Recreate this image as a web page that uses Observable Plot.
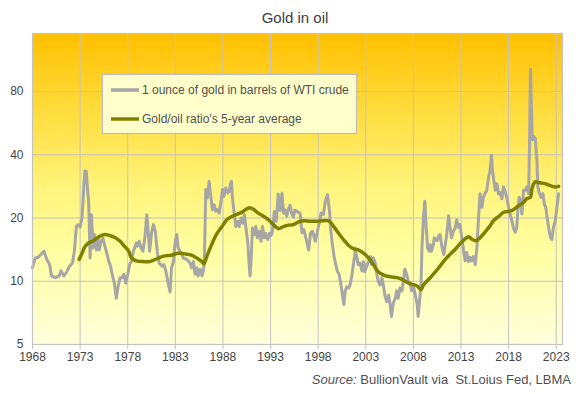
<!DOCTYPE html>
<html>
<head>
<meta charset="utf-8">
<script src="https://cdn.jsdelivr.net/npm/d3@7"></script>
<script src="https://cdn.jsdelivr.net/npm/@observablehq/plot@0.6"></script>
<style>
  html, body { margin: 0; padding: 0; background: #ffffff; }
  #chart { width: 576px; height: 394px; }
</style>
</head>
<body>
<div id="chart"></div>
<script>
// ---- Data ----
const chartTitle = "Gold in oil";
const seriesNames = ["1 ounce of gold in barrels of WTI crude", "Gold/oil ratio's 5-year average"];
const sourceLabel = "Source:";
const sourceText = "BullionVault via  St.Loius Fed, LBMA";

const ratioYears = [
  1968.0,1968.3,1968.6,1969.0,1969.2,1969.5,1969.8,1970.0,1970.4,1970.8,
  1971.0,1971.3,1971.6,1971.9,1972.2,1972.4,1972.6,1972.8,1973.0,1973.2,
  1973.4,1973.5,1973.65,1973.8,1973.9,1974.05,1974.2,1974.35,1974.5,1974.7,
  1974.9,1975.0,1975.2,1975.4,1975.6,1975.8,1976.0,1976.2,1976.4,1976.6,
  1976.8,1977.0,1977.2,1977.4,1977.6,1977.8,1978.0,1978.2,1978.4,1978.6,
  1978.9,1979.0,1979.2,1979.4,1979.6,1979.8,1980.0,1980.15,1980.3,1980.5,
  1980.7,1980.9,1981.1,1981.3,1981.6,1981.8,1982.0,1982.2,1982.45,1982.6,
  1982.8,1983.0,1983.15,1983.3,1983.5,1983.85,1984.2,1984.55,1984.7,1984.9,
  1985.07,1985.25,1985.4,1985.6,1985.8,1985.95,1986.05,1986.2,1986.35,1986.55,
  1986.7,1986.9,1987.07,1987.25,1987.4,1987.6,1987.8,1987.95,1988.1,1988.3,
  1988.5,1988.65,1988.8,1988.9,1989.0,1989.2,1989.35,1989.55,1989.7,1989.9,
  1990.1,1990.25,1990.4,1990.6,1990.75,1990.85,1990.95,1991.1,1991.3,1991.45,
  1991.6,1991.8,1992.0,1992.15,1992.35,1992.5,1992.7,1992.9,1993.06,1993.2,
  1993.4,1993.6,1993.8,1994.0,1994.2,1994.35,1994.5,1994.7,1994.85,1995.05,
  1995.2,1995.4,1995.55,1995.9,1996.1,1996.3,1996.5,1996.7,1997.0,1997.2,
  1997.4,1997.7,1998.0,1998.3,1998.55,1998.75,1998.98,1999.2,1999.3,1999.5,
  1999.7,1999.85,2000.0,2000.2,2000.4,2000.55,2000.7,2000.85,2001.0,2001.2,
  2001.35,2001.5,2001.7,2001.9,2002.05,2002.2,2002.4,2002.6,2002.75,2002.9,
  2003.1,2003.3,2003.5,2003.6,2003.8,2004.0,2004.15,2004.3,2004.5,2004.7,
  2004.9,2005.0,2005.2,2005.4,2005.6,2005.7,2005.9,2006.1,2006.25,2006.4,
  2006.6,2006.8,2006.95,2007.1,2007.3,2007.5,2007.7,2007.8,2008.0,2008.2,
  2008.4,2008.5,2008.6,2008.8,2008.9,2009.05,2009.2,2009.35,2009.5,2009.65,
  2009.8,2009.9,2010.1,2010.2,2010.5,2010.65,2010.8,2011.0,2011.2,2011.4,
  2011.5,2011.7,2011.85,2012.0,2012.2,2012.4,2012.55,2012.75,2012.9,2013.1,
  2013.27,2013.44,2013.6,2013.8,2013.95,2014.1,2014.3,2014.5,2014.67,2014.84,
  2015.0,2015.2,2015.35,2015.5,2015.7,2015.9,2016.05,2016.2,2016.3,2016.45,
  2016.6,2016.77,2016.94,2017.1,2017.3,2017.45,2017.6,2017.8,2018.0,2018.15,
  2018.35,2018.5,2018.7,2018.85,2018.97,2019.1,2019.25,2019.4,2019.57,2019.75,
  2019.9,2020.1,2020.2,2020.3,2020.4,2020.5,2020.6,2020.8,2020.97,2021.07,
  2021.2,2021.4,2021.6,2021.75,2021.9,2022.05,2022.2,2022.4,2022.55,2022.7,
  2022.9,2023.07,2023.25
];
const ratioValues = [
  11.6,12.9,13.0,13.6,13.9,12.7,12.0,10.6,10.4,10.6,
  11.2,10.6,11.1,11.8,12.2,13.9,18.2,18.6,18.1,20.0,
  28.8,33.5,33.3,26.7,24.0,12.9,20.7,14.4,16.7,14.1,
  15.8,14.1,15.5,16.0,14.7,13.6,12.5,11.8,10.6,9.8,
  8.3,9.5,10.4,10.4,10.8,9.8,10.8,12.0,12.5,13.9,
  15.2,14.7,15.5,14.4,13.9,16.1,20.7,17.3,13.9,17.0,
  18.6,17.3,13.9,12.2,11.8,12.0,11.2,10.0,8.9,11.6,
  12.4,15.5,16.7,14.4,13.9,12.9,12.7,12.2,11.6,12.4,
  10.8,11.6,10.6,11.4,10.6,11.2,12.4,27.3,24.9,29.9,
  25.8,21.9,23.1,21.5,21.9,21.1,24.0,27.3,25.4,27.8,
  26.3,26.7,29.3,29.9,24.9,20.7,18.2,19.3,18.2,20.0,
  18.9,20.7,18.2,15.5,12.0,10.6,12.4,17.9,16.7,18.2,
  16.1,17.3,15.5,18.2,16.1,16.9,15.8,16.9,16.5,17.3,
  21.5,19.3,26.0,21.7,26.2,21.1,21.9,20.4,21.9,23.0,
  21.1,20.2,21.8,21.3,21.1,17.0,17.6,16.1,14.1,17.0,
  17.3,15.5,17.9,21.1,20.8,24.0,25.8,21.5,17.9,14.9,
  12.9,12.0,11.2,10.8,9.6,8.6,7.75,9.0,9.4,9.3,
  9.6,10.4,12.0,13.9,13.1,12.0,12.2,11.2,12.4,11.1,
  11.8,12.4,13.1,12.0,12.9,12.2,10.9,10.0,9.6,10.4,
  9.3,8.6,8.0,8.6,7.5,6.8,7.9,8.3,9.0,8.3,
  9.3,9.0,10.0,11.4,10.8,9.8,9.6,9.0,9.5,8.6,
  7.75,6.8,7.6,9.6,14.4,20.0,24.0,17.9,14.4,13.9,
  14.9,13.9,14.9,16.1,15.6,16.4,16.7,14.5,13.4,15.5,
  16.7,20.5,18.0,16.1,17.3,18.0,19.6,18.0,18.6,16.0,
  14.0,12.5,13.7,12.4,13.0,12.5,13.1,12.0,14.5,20.0,
  26.1,22.5,25.1,26.1,27.0,31.3,33.5,39.8,33.8,30.2,
  27.1,29.1,26.1,26.4,24.7,28.1,27.1,25.1,22.5,20.9,
  19.4,18.0,17.1,18.0,21.7,25.1,24.2,20.9,27.1,27.1,
  28.1,26.1,45.3,102,65.6,47.1,48.9,48.0,37.7,28.1,
  26.6,25.1,26.1,23.3,22.5,20.1,18.0,16.1,15.8,18.0,
  19.4,22.5,26.1
];

const avgYears = [
  1972.9,1973.2,1973.5,1973.9,1974.4,1974.7,1975.1,1975.6,1976.1,1976.7,
  1977.2,1977.7,1978.1,1978.4,1978.9,1979.6,1980.3,1980.9,1981.4,1981.9,
  1982.6,1983.3,1984.0,1984.7,1985.25,1985.8,1986.0,1986.3,1986.8,1987.35,
  1987.9,1988.4,1988.9,1989.45,1990.0,1990.5,1990.85,1991.2,1991.7,1992.25,
  1992.8,1993.3,1993.8,1994.35,1994.9,1995.4,1995.9,1996.45,1997.2,1998.0,
  1999.1,1999.6,2000.1,2000.65,2001.2,2001.7,2002.2,2002.76,2003.3,2003.8,
  2004.3,2004.9,2005.6,2006.3,2006.8,2007.3,2007.8,2008.4,2008.8,2009.05,
  2009.6,2010.1,2010.6,2011.35,2011.9,2012.4,2012.9,2013.44,2013.8,2014.1,
  2014.56,2015.0,2015.5,2016.07,2016.4,2016.94,2017.5,2018.0,2018.5,2019.05,
  2019.6,2019.9,2020.3,2020.45,2020.8,2021.3,2021.85,2022.4,2022.9,2023.25
];
const avgValues = [
  12.7,13.6,14.6,15.2,15.6,16.0,16.4,16.7,16.5,16.1,
  15.5,14.6,13.9,12.9,12.5,12.4,12.4,12.7,13.0,13.2,
  13.3,13.6,13.5,13.3,12.9,12.4,12.1,13.1,14.9,16.8,
  18.2,19.6,20.3,20.8,21.3,22.1,22.4,22.0,21.1,20.4,
  19.6,18.6,17.8,18.2,18.5,18.6,19.1,19.4,19.3,19.3,
  19.4,18.3,17.0,15.8,14.8,14.3,14.1,13.6,12.9,12.0,
  11.1,10.7,10.5,10.4,10.2,9.9,9.7,9.5,9.1,9.6,
  10.2,10.8,11.5,12.7,13.5,14.2,15.1,15.9,16.3,15.9,
  15.6,16.1,17.1,18.4,19.4,20.3,21.3,21.5,21.9,22.9,
  23.8,24.7,25.1,27.6,29.7,29.4,29.1,28.5,28.1,28.3
];

const xTicks = [1968,1973,1978,1983,1988,1993,1998,2003,2008,2013,2018,2023];
const yTicks = [5,10,20,40,80];

// ---- Build tables for Plot ----
const ratio = ratioYears.map((x, i) => ({year: x, value: ratioValues[i]}));
const avg = avgYears.map((x, i) => ({year: x, value: avgValues[i]}));

const gridColor = "#c3c3c3";
const grayColor = "#a6a6a6";
const oliveColor = "#808000";

const svg = Plot.plot({
  width: 576,
  height: 394,
  marginLeft: 32,
  marginRight: 14,
  marginTop: 33,
  marginBottom: 50,
  style: {
    background: "#ffffff",
    fontFamily: "'Liberation Sans', Arial, sans-serif",
    fontSize: "12px",
    color: "#444444",
    overflow: "visible"
  },
  x: {domain: [1968, 2023.66], label: null},
  y: {type: "log", domain: [5, 151], label: null, axis: null},
  marks: [
    Plot.frame({fill: "url(#goldGrad)", stroke: "none"}),
    Plot.ruleX(xTicks, {x: d => d, stroke: gridColor, strokeWidth: 1}),
    Plot.ruleY(yTicks, {y: d => d, stroke: gridColor, strokeWidth: 1}),
    Plot.line(ratio, {x: "year", y: "value", stroke: grayColor, strokeWidth: 3, strokeLinejoin: "round"}),
    Plot.line(avg, {x: "year", y: "value", stroke: oliveColor, strokeWidth: 3.5, curve: "catmull-rom"}),
    Plot.frame({stroke: gridColor, strokeWidth: 1.2}),
    Plot.axisX(xTicks, {tickFormat: d => String(d), tickSize: 5, tickPadding: 3, stroke: gridColor, fill: "#444444", label: null}),
    Plot.text(yTicks, {y: d => d, text: d => String(d), frameAnchor: "left", dx: -9, textAnchor: "end", fill: "#444444", fontSize: 12})
  ]
});

const root = d3.select(svg);
const defs = root.insert("defs", ":first-child");
const grad = defs.append("linearGradient")
  .attr("id", "goldGrad").attr("x1", 0).attr("y1", 0).attr("x2", 0).attr("y2", 1);
[[0, "#ffc000"], [0.3, "#ffe24a"], [0.5, "#fff47c"], [0.72, "#ffffa6"], [1, "#ffffdc"]]
  .forEach(([o, c]) => grad.append("stop").attr("offset", o).attr("stop-color", c));

// Title
root.append("text")
  .attr("x", 295).attr("y", 23)
  .attr("text-anchor", "middle")
  .attr("font-size", 15)
  .attr("fill", "#404040")
  .text(chartTitle);

// Legend
const lg = root.append("g").attr("text-anchor", "start");
lg.append("rect").attr("x", 102.5).attr("y", 74.5).attr("width", 254).attr("height", 59)
  .attr("fill", "#ffffcc").attr("stroke", "#bdbdbd").attr("stroke-width", 1.2);
const legendItems = [[seriesNames[0], grayColor, 90], [seriesNames[1], oliveColor, 119]];
legendItems.forEach(([label, color, y]) => {
  lg.append("line").attr("x1", 111).attr("x2", 139).attr("y1", y).attr("y2", y)
    .attr("stroke", color).attr("stroke-width", 3.5);
  lg.append("text").attr("x", 142).attr("y", y + 4.2)
    .attr("text-anchor", "start")
    .attr("font-size", 12).attr("fill", "#505050").text(label);
});

// Source caption
const src = root.append("text")
  .attr("x", 571).attr("y", 384)
  .attr("text-anchor", "end")
  .attr("font-size", 13)
  .attr("fill", "#505050")
  .style("white-space", "pre");
src.append("tspan").attr("font-style", "italic").text(sourceLabel);
src.append("tspan").text(" " + sourceText);

document.getElementById("chart").appendChild(svg);
</script>
</body>
</html>
